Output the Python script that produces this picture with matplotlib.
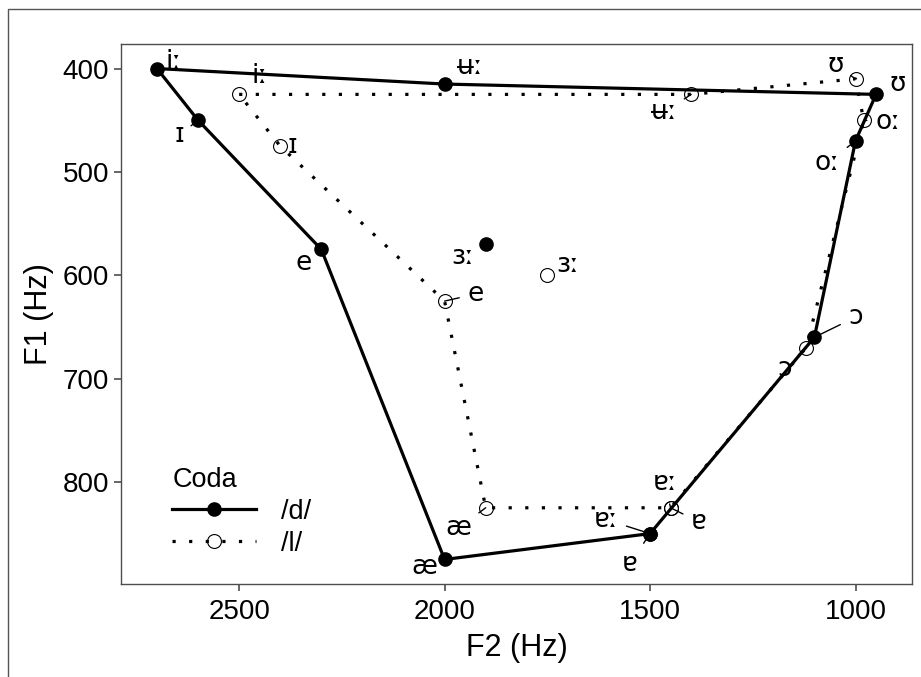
import matplotlib
matplotlib.use("Agg")
import matplotlib.pyplot as plt
from matplotlib.patches import Rectangle
from matplotlib.lines import Line2D

sans = "Liberation Sans"

vowels = ['iː', 'ɪ', 'e', 'æ', 'ɐ', 'ɐː', 'ɔ', 'oː', 'ʊ', 'ʉː', 'ɜː']
F2_d = [2700, 2600, 2300, 2000, 1500, 1500, 1100, 1000, 950, 2000, 1900]
F1_d = [400, 450, 575, 875, 850, 850, 660, 470, 425, 415, 570]
F2_l = [2500, 2400, 2000, 1900, 1450, 1450, 1120, 980, 1000, 1400, 1750]
F1_l = [425, 475, 625, 825, 825, 825, 670, 450, 410, 425, 600]
hull = ['iː', 'ʉː', 'ʊ', 'oː', 'ɔ', 'ɐ', 'æ', 'e', 'ɪ', 'iː']
codas = ['/d/', '/l/']
xticks = [2500, 2000, 1500, 1000]
yticks = [400, 500, 600, 700, 800]

# label offsets in pixels (dx, dy) and whether a connector segment is drawn
off_d = {'iː': (17, 7, 0), 'ɪ': (-19, -15, 1), 'e': (-18, -14, 0), 'æ': (-20, -8, 0),
         'ɐ': (-20, -30, 1), 'ɐː': (-44, 14, 1), 'ɔ': (41, 20, 1), 'oː': (-28, -22, 1),
         'ʊ': (22, 10, 0), 'ʉː': (25, 17, 1), 'ɜː': (-23, -13, 0)}
off_l = {'iː': (20, 18, 0), 'ɪ': (12, 0, 0), 'e': (31, 7, 1), 'æ': (-27, -20, 1),
         'ɐ': (28, -14, 1), 'ɐː': (-6, 25, 1), 'ɔ': (-22, -21, 1), 'oː': (24, -2, 1),
         'ʊ': (-20, 14, 1), 'ʉː': (-27, -18, 1), 'ɜː': (20, 10, 0)}

fig = plt.figure(figsize=(9.21, 6.77), dpi=100)
fig.patches.append(Rectangle((8 / 921, -0.1), 2, 1.1 - 9 / 677, transform=fig.transFigure,
                             fill=False, edgecolor='#555555', lw=1.0))
ax = fig.add_axes([121 / 921, 1 - 584 / 677, (912 - 121) / 921, (584 - 44) / 677])

idx = {v: i for i, v in enumerate(vowels)}
lw = 2.3
dot = (0, (1, 4.2))
ax.plot([F2_d[idx[v]] for v in hull], [F1_d[idx[v]] for v in hull], '-', color='black',
        lw=lw, zorder=2)
ax.plot([F2_l[idx[v]] for v in hull], [F1_l[idx[v]] for v in hull], color='black',
        lw=lw, linestyle=dot, zorder=2)
ax.plot(F2_d, F1_d, 'o', color='black', ms=9.5, zorder=3)
ax.plot(F2_l, F1_l, 'o', mfc='none', mec='black', mew=0.8, ms=10, zorder=3)

lab_font = dict(family='DejaVu Sans', fontsize=19)
for F2, F1, offs in [(F2_d, F1_d, off_d), (F2_l, F1_l, off_l)]:
    for i, v in enumerate(vowels):
        dx, dy, seg = offs[v]
        ap = dict(arrowstyle='-', color='black', lw=1.0, shrinkA=4, shrinkB=0) if seg else None
        ax.annotate(v, (F2[i], F1[i]), xytext=(dx, dy), textcoords='offset pixels',
                    ha='center', va='center', arrowprops=ap, zorder=4, **lab_font)

ax.set_xlim(2787.5, 862.5)
ax.set_ylim(898.75, 376.25)
ax.set_xticks(xticks)
ax.set_yticks(yticks)
for s in ax.spines.values():
    s.set_color('#4d4d4d')
    s.set_linewidth(1.0)
ax.tick_params(colors='#4d4d4d', length=5, width=1.2, labelcolor='black', labelsize=20)
ax.tick_params(axis='x', pad=5.5)
for t in ax.get_xticklabels() + ax.get_yticklabels():
    t.set_family(sans)
ax.set_xlabel('F2 (Hz)', family=sans, fontsize=22, labelpad=6)
ax.set_ylabel('F1 (Hz)', family=sans, fontsize=22, labelpad=6)

# legend
h1 = Line2D([], [], color='black', lw=lw, marker='o', ms=9.5)
h2 = Line2D([], [], color='black', lw=lw, linestyle=dot, marker='o',
            mfc='none', mec='black', mew=0.8, ms=10)
leg = ax.legend([h1, h2], codas, title='Coda', loc='lower left',
                bbox_to_anchor=(0.034, 0.005), frameon=False, handlelength=3.1,
                prop={'family': sans, 'size': 19.5},
                title_fontproperties={'family': sans, 'size': 19.5},
                labelspacing=0.22, handletextpad=0.9)
leg._legend_box.align = 'left'

fig.savefig('out.png', dpi=100)
